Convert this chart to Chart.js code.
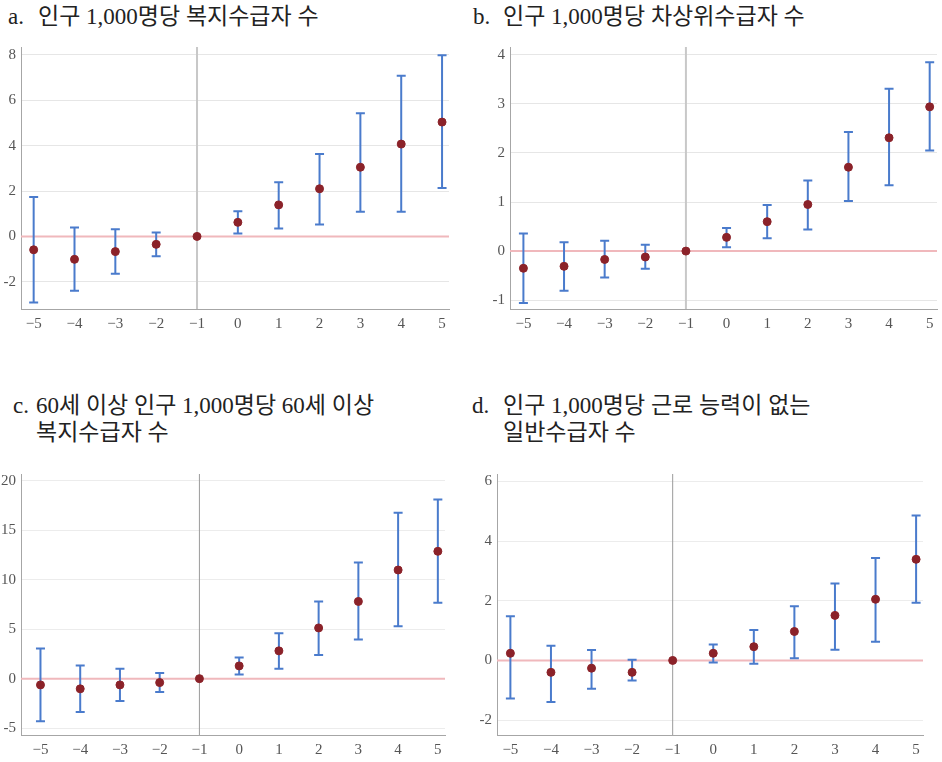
<!DOCTYPE html>
<html>
<head>
<meta charset="utf-8">
<script src="https://cdn.jsdelivr.net/npm/chart.js@4"></script>
<style>
  body { margin: 0; background: #fff; }
  #wrap { position: relative; width: 942px; height: 762px; }
  .ttl { position: absolute; display: flex; font-family: "Liberation Serif", "Noto Sans CJK KR", serif; font-size: 23px; color: #222; line-height: 27px; white-space: nowrap; }
  .ttl .lb { flex: none; }
  canvas { position: absolute; }
</style>
</head>
<body>
<div id="wrap">
  <div class="ttl" style="left:8px; top:3px;"><span class="lb" style="width:30px">a.</span><span>인구 1,000명당 복지수급자 수</span></div>
  <div class="ttl" style="left:473px; top:3px;"><span class="lb" style="width:30px">b.</span><span>인구 1,000명당 차상위수급자 수</span></div>
  <div class="ttl" style="left:13px; top:392px;"><span class="lb" style="width:23px">c.</span><span>60세 이상 인구 1,000명당 60세 이상<br>복지수급자 수</span></div>
  <div class="ttl" style="left:472px; top:392px;"><span class="lb" style="width:31px">d.</span><span>인구 1,000명당 근로 능력이 없는<br>일반수급자 수</span></div>
  <canvas id="ca" width="455" height="312" style="left:0; top:33px;"></canvas>
  <canvas id="cb" width="472" height="312" style="left:470px; top:33px;"></canvas>
  <canvas id="cc" width="455" height="302" style="left:0; top:460px;"></canvas>
  <canvas id="cd" width="472" height="302" style="left:470px; top:460px;"></canvas>
</div>
<script>
// event time (years relative to policy change)
const years = [-5, -4, -3, -2, -1, 0, 1, 2, 3, 4, 5];

// a. 인구 1,000명당 복지수급자 수
const aEst = [-0.59, -1.01, -0.67, -0.35, 0, 0.62, 1.39, 2.10, 3.05, 4.07, 5.04];
const aHi  = [1.74, 0.39, 0.32, 0.17, 0, 1.11, 2.39, 3.63, 5.43, 7.08, 7.99];
const aLo  = [-2.91, -2.40, -1.65, -0.88, 0, 0.13, 0.35, 0.52, 1.09, 1.09, 2.13];

// b. 인구 1,000명당 차상위수급자 수
const bEst = [-0.35, -0.31, -0.17, -0.12, 0, 0.28, 0.60, 0.95, 1.71, 2.31, 2.94];
const bHi  = [0.36, 0.18, 0.21, 0.13, 0, 0.47, 0.94, 1.44, 2.43, 3.31, 3.85];
const bLo  = [-1.06, -0.81, -0.54, -0.36, 0, 0.08, 0.26, 0.44, 1.02, 1.34, 2.05];

// c. 60세 이상 인구 1,000명당 60세 이상 복지수급자 수
const cEst = [-0.63, -1.03, -0.63, -0.40, 0, 1.29, 2.81, 5.13, 7.81, 10.99, 12.88];
const cHi  = [3.05, 1.32, 0.99, 0.56, 0, 2.15, 4.60, 7.81, 11.75, 16.79, 18.11];
const cLo  = [-4.30, -3.38, -2.25, -1.36, 0, 0.43, 0.99, 2.38, 3.97, 5.30, 7.68];

// d. 인구 1,000명당 근로 능력이 없는 일반수급자 수
const dEst = [0.24, -0.40, -0.26, -0.40, 0, 0.24, 0.46, 0.97, 1.51, 2.05, 3.39];
const dHi  = [1.48, 0.49, 0.35, 0.02, 0, 0.53, 1.02, 1.82, 2.58, 3.43, 4.86];
const dLo  = [-1.28, -1.39, -0.95, -0.67, 0, -0.07, -0.11, 0.07, 0.36, 0.63, 1.93];

// draws zero line, event line at -1 and the CI whiskers
const errorBars = {
  id: 'errorBars',
  beforeDatasetsDraw(chart, args, o) {
    const {ctx, chartArea: a, scales: {x, y}} = chart;
    ctx.save();
    const y0 = y.getPixelForValue(0);
    ctx.strokeStyle = '#f0b8bc';
    ctx.lineWidth = 2;
    ctx.beginPath(); ctx.moveTo(a.left, y0); ctx.lineTo(a.right, y0); ctx.stroke();
    const xe = x.getPixelForValue(-1);
    ctx.strokeStyle = o.vColor;
    ctx.lineWidth = o.vWidth;
    ctx.beginPath(); ctx.moveTo(xe, a.top); ctx.lineTo(xe, a.bottom); ctx.stroke();
    ctx.strokeStyle = '#4a7bcc';
    ctx.lineWidth = 2;
    years.forEach((yr, i) => {
      if (o.lo[i] === o.hi[i]) return;
      const px = x.getPixelForValue(yr);
      const top = y.getPixelForValue(o.hi[i]);
      const bot = y.getPixelForValue(o.lo[i]);
      ctx.beginPath();
      ctx.moveTo(px, top); ctx.lineTo(px, bot);
      ctx.moveTo(px - 4.5, top); ctx.lineTo(px + 4.5, top);
      ctx.moveTo(px - 4.5, bot); ctx.lineTo(px + 4.5, bot);
      ctx.stroke();
    });
    ctx.restore();
  }
};

const tickFont = { family: 'Liberation Serif', size: 15 };

function panel(id, est, lo, hi, p) {
  new Chart(document.getElementById(id), {
    type: 'scatter',
    data: {
      datasets: [{
        data: years.map((yr, i) => ({ x: yr, y: est[i] })),
        backgroundColor: '#8b2229',
        borderColor: '#8b2229',
        pointRadius: 4,
        pointHoverRadius: 4
      }]
    },
    options: {
      responsive: false,
      animation: false,
      layout: { padding: { top: p.padTop, right: p.padRight, left: 0, bottom: 0 } },
      plugins: {
        legend: { display: false },
        tooltip: { enabled: false },
        errorBars: { lo: lo, hi: hi, vColor: p.vColor, vWidth: p.vWidth }
      },
      scales: {
        x: {
          type: 'linear',
          min: p.xMin, max: p.xMax,
          afterFit: s => { s.height = p.xh; },
          grid: { display: false, drawTicks: false },
          border: { display: true, color: '#a6a6a6', width: 1 },
          ticks: {
            stepSize: 1, includeBounds: false, padding: 6,
            color: '#555', font: tickFont,
            callback: v => (v < 0 ? '\u2212' + Math.abs(v) : String(v))
          }
        },
        y: {
          min: p.yMin, max: p.yMax,
          afterFit: s => { s.width = p.yw; },
          grid: { color: p.gridColor, lineWidth: 1, drawTicks: false },
          border: { display: true, color: '#a6a6a6', width: 1 },
          ticks: {
            stepSize: p.step, includeBounds: false, padding: 5,
            color: '#555', font: tickFont
          }
        }
      }
    },
    plugins: [errorBars]
  });
}

panel('ca', aEst, aLo, aHi, { xMin: -5.31, xMax: 5.17, yMin: -3.2, yMax: 8.35, step: 2,
  yw: 21, xh: 36, padTop: 10, padRight: 6, vColor: '#c8c8c8', vWidth: 2, gridColor: '#e6e6e6' });
panel('cb', bEst, bLo, bHi, { xMin: -5.33, xMax: 5.18, yMin: -1.18, yMax: 4.16, step: 1,
  yw: 40, xh: 36, padTop: 10, padRight: 3, vColor: '#c8c8c8', vWidth: 2, gridColor: '#e6e6e6' });
panel('cc', cEst, cLo, cHi, { xMin: -5.49, xMax: 5.18, yMin: -5.7, yMax: 20.7, step: 5,
  yw: 21, xh: 27, padTop: 9, padRight: 10, vColor: '#9a9a9a', vWidth: 1, gridColor: '#ececec' });
panel('cd', dEst, dLo, dHi, { xMin: -5.33, xMax: 5.17, yMin: -2.5, yMax: 6.25, step: 2,
  yw: 27, xh: 27, padTop: 9, padRight: 19, vColor: '#9a9a9a', vWidth: 1, gridColor: '#ececec' });
</script>
</body>
</html>
